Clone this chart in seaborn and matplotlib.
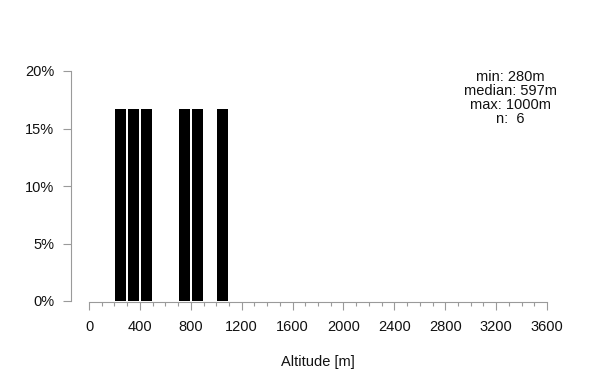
import numpy as np
import pandas as pd
import seaborn as sns
import matplotlib
matplotlib.use("Agg")
import matplotlib.pyplot as plt
from matplotlib.ticker import FixedLocator, FuncFormatter

# data: altitudes of the six observations (m)
altitudes = [280, 350, 450, 744, 850, 1000]
bin_edges = list(range(0, 3700, 100))
x_major_ticks = list(range(0, 3601, 400))
x_minor_ticks = list(range(0, 3601, 100))
y_ticks = [0, 5, 10, 15, 20]
x_label = "Altitude [m]"

sns.set_style("ticks")
plt.rcParams['font.family'] = ['Liberation Sans', 'DejaVu Sans']

df = pd.DataFrame({"alt": altitudes})

fig = plt.figure(figsize=(6, 3.9), dpi=100)
ax = fig.add_axes([71/600, 1-301/390, (547-71)/600, (301-71)/390])

sns.histplot(data=df, x="alt", bins=bin_edges, stat="percent",
             color="black", edgecolor="white", linewidth=0, alpha=1,
             shrink=0.85, ax=ax)

ax.set_xlim(-141.5, 3600)
ax.set_ylim(0, 20)

grey = "#9a9a9a"
for s in ["top", "right"]:
    ax.spines[s].set_visible(False)
ax.spines["left"].set_color(grey)
ax.spines["bottom"].set_color(grey)
ax.spines["left"].set_bounds(0, 20)
ax.spines["bottom"].set_bounds(0, 3600)
ax.spines["bottom"].set_position(("outward", 1))

ax.set_xticks(x_major_ticks)
ax.xaxis.set_minor_locator(FixedLocator(x_minor_ticks))
ax.set_yticks(y_ticks)
ax.yaxis.set_major_formatter(FuncFormatter(lambda v, p: f"{int(v)}%"))
ax.tick_params(axis="both", which="major", color=grey, length=6, width=0.8,
               labelsize=10.5, labelcolor="#111111")
ax.tick_params(axis="y", pad=6)
ax.tick_params(axis="x", which="major", pad=7)
ax.tick_params(axis="x", which="minor", color=grey, length=3, width=0.8)

ax.set_xlabel("")
ax.set_ylabel("")
fig.text(318/600, 1-362/390, x_label, ha="center", va="center",
         fontsize=10.5, color="#111111")

vals = np.array(altitudes)
stats_txt = (f"min: {vals.min():.0f}m\nmedian: {np.median(vals):.0f}m\n"
             f"max: {vals.max():.0f}m\nn:  {len(vals)}")
fig.text(510/600, 1-70/390, stats_txt, ha="center", va="top",
         fontsize=10.5, linespacing=1.0, color="#111111")

fig.savefig("out.png", dpi=100)
